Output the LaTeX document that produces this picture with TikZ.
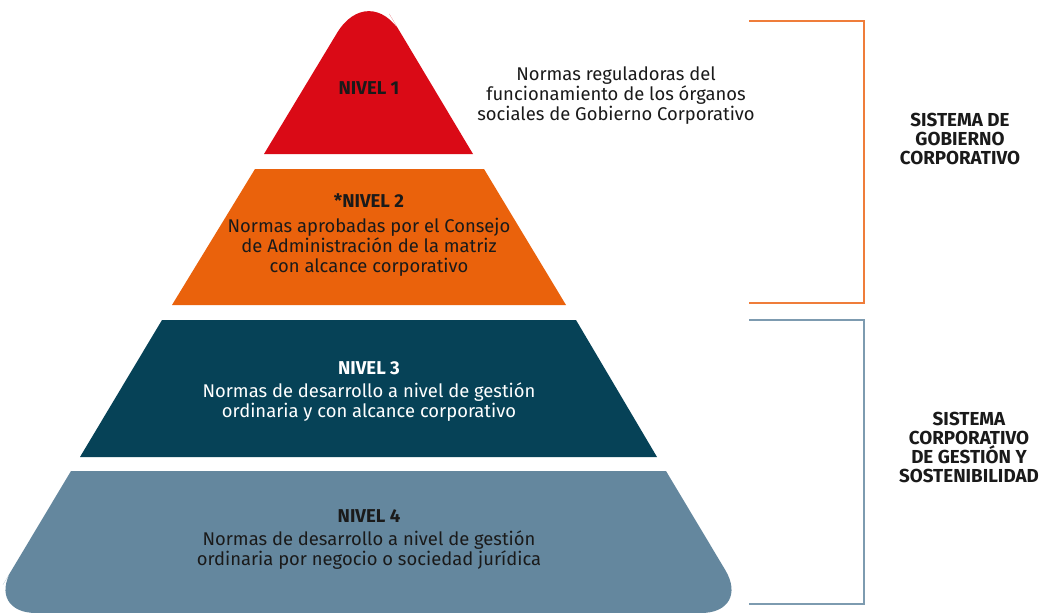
\documentclass[tikz,border=0pt]{standalone}
\usepackage{fontspec}
\setmainfont{Fira Sans}
\definecolor{cred}{HTML}{DA0A16}
\definecolor{corange}{HTML}{EA620C}
\definecolor{cteal}{HTML}{064257}
\definecolor{cblue}{HTML}{64879E}
\definecolor{corbr}{HTML}{EF7D3A}
\definecolor{cblbr}{HTML}{7D9BB0}
\definecolor{ctext}{HTML}{1A1A1A}
\tikzset{
  lvltitle/.style={font=\fontsize{18.6}{20}\selectfont\bfseries, anchor=center},
  lvltext/.style={font=\fontsize{18.4}{20}\selectfont, align=center, anchor=center},
  syslabel/.style={font=\fontsize{18.8}{19}\selectfont\bfseries, align=center, anchor=center, text=ctext},
  bracket/.style={line width=1.1pt}
}
\begin{document}
\begin{tikzpicture}[x=1pt,y=-1pt]
\useasboundingbox[fill=white] (0,0) rectangle (1042,613);
% level shapes
\fill[cred] (264,154) -- (316.5,67) [rounded corners=62pt] -- (369,-20) -- (421,67) [sharp corners] -- (473,154) -- cycle;
\fill[corange] (255,169) -- (484,169) -- (566,305) -- (172,305) -- cycle;
\fill[cteal] (162,320) -- (576,320) -- (657,457) -- (80,457) -- cycle;
\fill[cblue] (71,471) -- (666,471) -- (708.5,542) [rounded corners=50pt] -- (751,613) -- (-14,613) -- (28.5,542) [sharp corners] -- cycle;
% texts
\node[lvltitle, text=ctext] (n1) at (369,88) {NIVEL 1};
\node[lvltext, text=ctext] (d1) at (616,96) {Normas reguladoras del\\funcionamiento de los órganos\\sociales de Gobierno Corporativo};
\node[lvltitle, text=ctext] (n2) at (369,201) {*NIVEL 2};
\node[lvltext, text=ctext] (d2) at (369,247) {Normas aprobadas por el Consejo\\de Administración de la matriz\\con alcance corporativo};
\node[lvltitle, text=white] (n3) at (369,368) {NIVEL 3};
\node[lvltext, text=white] (d3) at (369,402) {Normas de desarrollo a nivel de gestión\\ordinaria y con alcance corporativo};
\node[lvltitle, text=ctext] (n4) at (369,516) {NIVEL 4};
\node[lvltext, text=ctext] (d4) at (369,550) {Normas de desarrollo a nivel de gestión\\ordinaria por negocio o sociedad jurídica};
% brackets
\coordinate (b1a) at (749,21);
\coordinate (b1b) at (864,21);
\coordinate (b1c) at (864,303);
\coordinate (b1d) at (749,303);
\draw[bracket, corbr] (b1a) -- (b1b) -- (b1c) -- (b1d);
\coordinate (b2a) at (749,320);
\coordinate (b2b) at (864,320);
\coordinate (b2c) at (864,604);
\coordinate (b2d) at (749,604);
\draw[bracket, cblbr] (b2a) -- (b2b) -- (b2c) -- (b2d);
\node[syslabel] (s1) at (960,139) {SISTEMA DE\\GOBIERNO\\CORPORATIVO};
\node[syslabel] (s2) at (969,447) {SISTEMA\\CORPORATIVO\\DE GESTIÓN Y\\SOSTENIBILIDAD};
\end{tikzpicture}
\end{document}
